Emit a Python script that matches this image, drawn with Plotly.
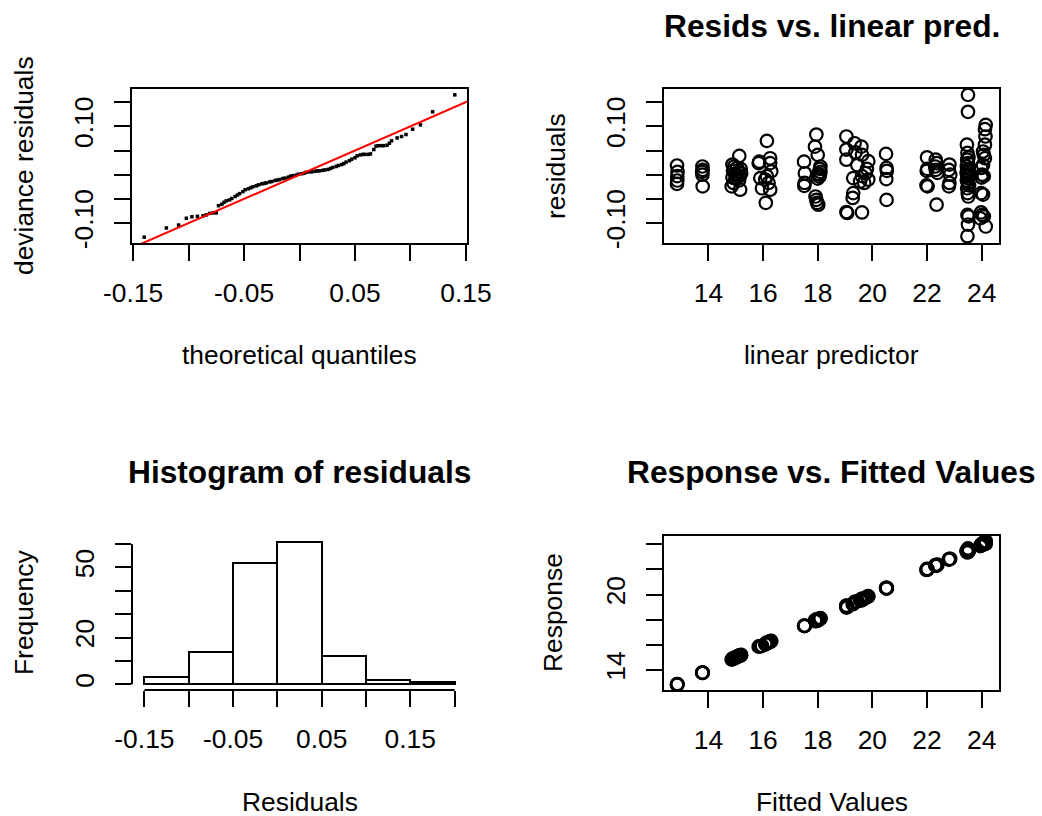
import plotly.graph_objects as go

# ---------------- data ----------------
# Q-Q plot: theoretical quantiles vs. sorted deviance residuals
qq_theoretical = [
    -0.140, -0.120, -0.109, -0.102, -0.097, -0.092, -0.087, -0.084, -0.081, -0.078,
    -0.075, -0.073, -0.070, -0.068, -0.066, -0.063, -0.061, -0.058, -0.056, -0.054,
    -0.051, -0.049, -0.046, -0.044, -0.042, -0.039, -0.037, -0.034, -0.032, -0.030,
    -0.027, -0.025, -0.022, -0.020, -0.018, -0.015, -0.013, -0.010, -0.008, -0.006,
    -0.003, -0.001, 0.002, 0.004, 0.006, 0.009, 0.011, 0.014, 0.016, 0.018,
    0.021, 0.023, 0.026, 0.028, 0.030, 0.033, 0.035, 0.038, 0.040, 0.042,
    0.045, 0.047, 0.050, 0.052, 0.055, 0.057, 0.059, 0.062, 0.064, 0.067,
    0.069, 0.071, 0.074, 0.076, 0.079, 0.081, 0.083, 0.088, 0.092, 0.096,
    0.102, 0.109, 0.120, 0.140,
]
qq_deviance = [
    -0.129, -0.110, -0.104, -0.090, -0.087, -0.086, -0.085, -0.083, -0.080, -0.079,
    -0.079, -0.064, -0.061, -0.057, -0.054, -0.052, -0.049, -0.045, -0.042, -0.039,
    -0.035, -0.031, -0.029, -0.027, -0.025, -0.023, -0.021, -0.019, -0.018, -0.017,
    -0.015, -0.014, -0.012, -0.011, -0.010, -0.008, -0.007, -0.005, -0.003, -0.002,
    -0.001, 0.001, 0.002, 0.003, 0.005, 0.006, 0.006, 0.007, 0.008, 0.008,
    0.009, 0.010, 0.011, 0.013, 0.015, 0.017, 0.019, 0.021, 0.023, 0.026,
    0.029, 0.032, 0.035, 0.039, 0.041, 0.042, 0.042, 0.042, 0.043, 0.052,
    0.059, 0.060, 0.060, 0.060, 0.061, 0.065, 0.070, 0.076, 0.079, 0.083,
    0.094, 0.103, 0.130, 0.165,
]
qq_reference = [-0.2, 0.2]   # the 1:1 reference line

# Residuals vs. linear predictor (and response vs. fitted)
lin_pred = [
    12.85, 12.87, 12.86, 12.86, 12.85,
    13.78, 13.79, 13.77, 13.78, 13.79,
    15.13, 14.88, 14.95, 15.05, 15.18, 14.90, 15.10, 15.20, 14.98, 15.05, 15.15, 14.88, 15.00, 15.12, 14.85, 14.92, 15.16,
    16.14, 15.86, 16.26, 16.26, 15.84, 16.30, 15.90, 16.08, 16.20, 15.96, 16.26, 16.10, 16.14,
    17.50, 17.53, 17.52, 17.51,
    17.95, 17.90, 18.00, 18.10, 18.08, 18.10, 18.02, 18.06, 18.00, 17.92, 17.95, 17.98, 18.02, 18.08,
    19.05, 19.05, 19.05, 19.35, 19.60, 19.38, 19.62, 19.85, 19.30, 19.75, 19.62, 19.85, 19.55, 19.70, 19.30, 19.28, 19.08, 19.05, 19.62, 19.80, 19.45,
    20.50, 20.52, 20.53, 20.51, 20.52,
    22.00, 22.01, 21.99, 21.98, 22.02,
    22.32, 22.35, 22.30, 22.32, 22.38, 22.35,
    22.82, 22.80, 22.85, 22.82, 22.80,
    23.50, 23.50, 23.46, 23.48, 23.52, 23.47, 23.50, 23.46, 23.53, 23.49, 23.45, 23.51, 23.48, 23.52, 23.46, 23.50, 23.54, 23.47, 23.49, 23.51, 23.48, 23.52, 23.50, 23.48,
    24.15, 24.12, 24.14, 24.12, 24.05, 24.08, 24.12, 24.05, 23.98, 24.02, 24.08, 24.00, 23.98, 24.05, 23.98, 24.02, 24.08, 23.95, 24.15,
]
resid = [
    0.019, 0.006, -0.003, -0.012, -0.019,
    0.017, 0.010, 0.006, 0.000, -0.024,
    0.039, 0.021, 0.017, 0.014, 0.012, 0.008, 0.006, 0.003, 0.002, 0.000, -0.003, -0.006, -0.008, -0.012, -0.024, -0.017, -0.031,
    0.070, 0.027, 0.034, 0.024, 0.024, 0.007, -0.007, -0.010, -0.017, -0.028, -0.031, -0.058, -0.003,
    0.027, 0.003, -0.017, -0.023,
    0.083, 0.058, 0.041, 0.017, 0.012, 0.006, 0.002, -0.004, -0.008, -0.045, -0.052, -0.058, -0.062, 0.000,
    0.079, 0.052, 0.031, 0.065, 0.058, 0.046, 0.041, 0.028, -0.007, 0.003, -0.003, -0.010, -0.014, -0.017, -0.038, -0.048, -0.079, -0.077, -0.078, 0.012, 0.020,
    0.043, 0.014, 0.008, -0.009, -0.052,
    0.036, 0.012, 0.008, -0.022, -0.024,
    0.031, 0.024, 0.017, 0.010, 0.004, -0.062,
    0.021, 0.010, 0.000, -0.017, -0.024,
    0.165, 0.130, 0.062, 0.045, 0.036, 0.031, 0.024, 0.017, 0.012, 0.008, 0.004, 0.000, -0.004, -0.008, -0.012, -0.017, -0.022, -0.028, -0.038, -0.045, -0.083, -0.086, -0.103, -0.127,
    0.103, 0.094, 0.079, 0.062, 0.048, 0.041, 0.034, 0.020, 0.014, 0.000, -0.003, -0.006, -0.038, -0.041, -0.078, -0.083, -0.086, -0.090, -0.107,
]
fitted_values = lin_pred  # identity link: fitted values equal the linear predictor
response = [
    12.87, 12.88, 12.86, 12.85, 12.83,
    13.80, 13.80, 13.78, 13.78, 13.77,
    15.17, 14.90, 14.97, 15.06, 15.19, 14.91, 15.11, 15.20, 14.98, 15.05, 15.15, 14.87, 14.99, 15.11, 14.83, 14.90, 15.13,
    16.21, 15.89, 16.29, 16.28, 15.86, 16.31, 15.89, 16.07, 16.18, 15.93, 16.23, 16.04, 16.14,
    17.53, 17.53, 17.50, 17.49,
    18.03, 17.96, 18.04, 18.12, 18.09, 18.11, 18.02, 18.06, 17.99, 17.88, 17.90, 17.92, 17.96, 18.08,
    19.13, 19.10, 19.08, 19.42, 19.66, 19.43, 19.66, 19.88, 19.29, 19.75, 19.62, 19.84, 19.54, 19.68, 19.26, 19.23, 19.00, 18.97, 19.54, 19.81, 19.47,
    20.54, 20.53, 20.54, 20.50, 20.47,
    22.04, 22.02, 22.00, 21.96, 22.00,
    22.35, 22.37, 22.32, 22.33, 22.38, 22.29,
    22.84, 22.81, 22.85, 22.80, 22.78,
    23.67, 23.63, 23.52, 23.53, 23.56, 23.50, 23.52, 23.48, 23.54, 23.50, 23.45, 23.51, 23.48, 23.51, 23.45, 23.48, 23.52, 23.44, 23.45, 23.47, 23.40, 23.43, 23.40, 23.35,
    24.25, 24.21, 24.22, 24.18, 24.10, 24.12, 24.15, 24.07, 23.99, 24.02, 24.08, 23.99, 23.94, 24.01, 23.90, 23.94, 23.99, 23.86, 24.04,
]

# Histogram of residuals
hist_breaks = [-0.15, -0.10, -0.05, 0.00, 0.05, 0.10, 0.15, 0.20]
hist_counts = [3, 14, 52, 61, 12, 2, 1]

# tick labels
qq_xticks = [-0.15, -0.10, -0.05, 0.00, 0.05, 0.10, 0.15]
qq_xlabels = ["-0.15", "", "-0.05", "", "0.05", "", "0.15"]
res_yticks = [-0.10, -0.05, 0.00, 0.05, 0.10, 0.15]
res_ylabels = ["-0.10", "", "", "", "0.10", ""]
lp_ticks = [14, 16, 18, 20, 22, 24]
lp_labels = ["14", "16", "18", "20", "22", "24"]
hist_xticks = [-0.15, -0.10, -0.05, 0.00, 0.05, 0.10, 0.15, 0.20]
hist_xlabels = ["-0.15", "", "-0.05", "", "0.05", "", "0.15", ""]
hist_yticks = [0, 10, 20, 30, 40, 50, 60]
hist_ylabels = ["0", "", "20", "", "", "50", ""]
resp_yticks = [14, 16, 18, 20, 22, 24]
resp_ylabels = ["14", "", "", "20", "", ""]

# ---------------- layout geometry (pixels) ----------------
W, H = 1042, 816
FONT = "Liberation Sans, Arial, Helvetica, sans-serif"
FS = 26.4
FS_MAIN = 31.7
X_STANDOFF = 9
Y_STANDOFF = 10


def dx(l, r):
    return [l / W, r / W]


def dy(t, b):
    return [1 - b / H, 1 - t / H]


L_COL = (132, 467)
R_COL = (664, 999)
T_ROW = (89, 243)
B_ROW = (536, 690)

fig = go.Figure()

# Panel 1: QQ plot
fig.add_trace(go.Scatter(x=qq_theoretical, y=qq_deviance, mode="markers",
                         marker=dict(symbol="square", size=3.5, color="black", line=dict(width=0)),
                         xaxis="x", yaxis="y", showlegend=False, hoverinfo="skip"))
fig.add_trace(go.Scatter(x=qq_reference, y=qq_reference, mode="lines",
                         line=dict(color="#FF0000", width=2),
                         xaxis="x", yaxis="y", showlegend=False, hoverinfo="skip"))

# Panel 2: residuals vs linear predictor
circle = dict(symbol="circle-open", size=12.5, color="black", line=dict(width=2.2, color="black"))
fig.add_trace(go.Scatter(x=lin_pred, y=resid, mode="markers", marker=circle,
                         xaxis="x2", yaxis="y2", showlegend=False, hoverinfo="skip"))

# Panel 3: histogram
centers = [(a + b) / 2 for a, b in zip(hist_breaks[:-1], hist_breaks[1:])]
widths = [b - a for a, b in zip(hist_breaks[:-1], hist_breaks[1:])]
fig.add_trace(go.Bar(x=centers, y=hist_counts, width=widths,
                     marker=dict(color="white", line=dict(color="black", width=2)),
                     xaxis="x3", yaxis="y3", showlegend=False, hoverinfo="skip"))

# Panel 4: response vs fitted
fig.add_trace(go.Scatter(x=fitted_values, y=response, mode="markers", marker=circle,
                         xaxis="x4", yaxis="y4", showlegend=False, hoverinfo="skip"))

tickfont = dict(family=FONT, size=FS, color="black")
base = dict(showgrid=False, zeroline=False, ticks="outside", ticklen=16, tickwidth=2,
            tickcolor="black", linecolor="black", linewidth=2, tickfont=tickfont,
            tickmode="array", fixedrange=True, automargin=False)

boxed = dict(showline=True, mirror=True)

fig.update_layout(
    width=W, height=H, autosize=False,
    margin=dict(l=0, r=0, t=0, b=0, pad=0, autoexpand=False),
    paper_bgcolor="white", plot_bgcolor="white",
    bargap=0,
    xaxis=dict(**base, **boxed, domain=dx(*L_COL), anchor="y", range=[-0.151, 0.151],
               tickvals=qq_xticks, ticktext=qq_xlabels, ticklabelstandoff=X_STANDOFF),
    yaxis=dict(**base, **boxed, domain=dy(*T_ROW), anchor="x", range=[-0.1411, 0.1771],
               tickvals=res_yticks, ticktext=res_ylabels, tickangle=-90, ticklabelstandoff=Y_STANDOFF),
    xaxis2=dict(**base, **boxed, domain=dx(*R_COL), anchor="y2", range=[12.374, 24.635],
                tickvals=lp_ticks, ticktext=lp_labels, ticklabelstandoff=X_STANDOFF),
    yaxis2=dict(**base, **boxed, domain=dy(*T_ROW), anchor="x2", range=[-0.1411, 0.1771],
                tickvals=res_yticks, ticktext=res_ylabels, tickangle=-90, ticklabelstandoff=Y_STANDOFF),
    xaxis3=dict(**base, showline=False, domain=dx(*L_COL), anchor="y3", range=[-0.164, 0.214],
                tickvals=hist_xticks, ticktext=hist_xlabels, ticklabelstandoff=X_STANDOFF),
    yaxis3=dict(**base, showline=False, domain=dy(*B_ROW), anchor="x3", range=[-2.44, 63.44],
                tickvals=hist_yticks, ticktext=hist_ylabels, tickangle=-90, ticklabelstandoff=Y_STANDOFF),
    xaxis4=dict(**base, **boxed, domain=dx(*R_COL), anchor="y4", range=[12.374, 24.635],
                tickvals=lp_ticks, ticktext=lp_labels, ticklabelstandoff=X_STANDOFF),
    yaxis4=dict(**base, **boxed, domain=dy(*B_ROW), anchor="x4", range=[12.41, 24.66],
                tickvals=resp_yticks, ticktext=resp_ylabels, tickangle=-90, ticklabelstandoff=Y_STANDOFF),
)

# R-style axis lines for the histogram (span first to last tick only)
fig.add_shape(type="line", xref="x3", yref="y3 domain", x0=hist_xticks[0], x1=hist_xticks[-1],
              y0=0, y1=0, line=dict(color="black", width=2))
fig.add_shape(type="line", xref="x3 domain", yref="y3", x0=0, x1=0,
              y0=hist_yticks[0], y1=hist_yticks[-1], line=dict(color="black", width=2))


def ann(text, px, py, size=FS, bold=False, angle=0):
    fig.add_annotation(text=f"<b>{text}</b>" if bold else text,
                       x=px / W, y=1 - py / H, xref="paper", yref="paper",
                       xanchor="center", yanchor="middle", showarrow=False, textangle=angle,
                       font=dict(family=FONT, size=size, color="black"))


# titles
ann("Resids vs. linear pred.", 831.5, 26, FS_MAIN, bold=True)
ann("Histogram of residuals", 299.5, 472, FS_MAIN, bold=True)
ann("Response vs. Fitted Values", 831.5, 472, FS_MAIN, bold=True)
# x-axis titles
ann("theoretical quantiles", 299.5, 355)
ann("linear predictor", 831.5, 355)
ann("Residuals", 299.5, 802)
ann("Fitted Values", 831.5, 802)
# y-axis titles
ann("deviance residuals", 24, 166, angle=-90)
ann("residuals", 556, 166, angle=-90)
ann("Frequency", 24, 613, angle=-90)
ann("Response", 553, 613, angle=-90)

fig.write_html("out.html", config={"displayModeBar": False},
               post_script="document.body.style.margin='0';")
